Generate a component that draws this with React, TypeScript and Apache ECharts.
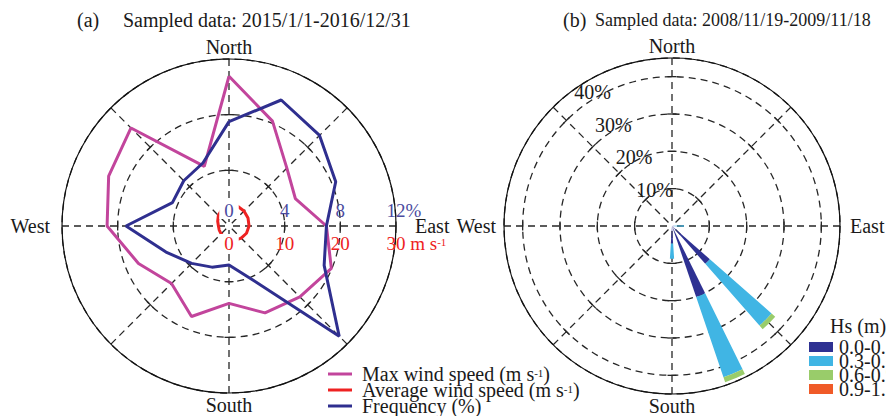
import React, { useEffect, useRef } from 'react';
import * as echarts from 'echarts';

// ---- data -------------------------------------------------------------
const DIRECTIONS = ['N', 'NNE', 'NE', 'ENE', 'E', 'ESE', 'SE', 'SSE', 'S', 'SSW', 'SW', 'WSW', 'W', 'WNW', 'NW', 'NNW'];

// (a) wind, 2015/1/1-2016/12/31
const maxWindSpeed = [26.9, 20.4, 14.7, 12.9, 17.5, 19.9, 18.0, 16.9, 13.9, 17.6, 14.6, 17.6, 21.9, 23.4, 24.9, 11.6];
const avgWindSpeed = [3.7, 3.9, 3.8, 3.7, 3.6, 3.4, 3.1, 2.8, 2.5, 2.2, 2.0, 1.9, 1.9, 2.2, 2.7, 3.3];
const windFrequency = [7.5, 9.8, 9.2, 8.3, 7.0, 7.4, 11.2, 4.1, 2.8, 3.2, 3.8, 4.9, 7.4, 4.4, 4.6, 4.9];
const speedTicks = [0, 10, 20, 30];
const freqTicks = [0, 4, 8, 12];

// (b) wave rose, 2008/11/19-2009/11/18, frequency (%) per Hs class
const HS_CLASSES = ['0.0-0.3', '0.3-0.6', '0.6-0.9', '0.9-1.2'];
const hs00to03 = [0, 0, 0, 0, 0.6, 0, 13.5, 20.1, 4.7, 0, 0, 0, 0, 0, 0, 0];
const hs03to06 = [0, 0, 0, 0, 2.6, 0, 22.0, 22.7, 4.1, 0, 0, 0, 0, 0, 0, 0];
const hs06to09 = [0, 0, 0, 0, 0, 0, 1.3, 1.4, 0, 0, 0, 0, 0, 0, 0, 0];
const hs09to12 = [0, 0, 0, 0, 0, 0, 0, 0, 0, 0, 0, 0, 0, 0, 0, 0];
const waveRings = [10, 20, 30, 40];

// ---- style / layout ---------------------------------------------------
const FONT = "'Liberation Serif', 'Times New Roman', serif";
const FS = 20;
const INK = '#1a1a1a';
const MAGENTA = '#c2459c';
const RED = '#ee2222';
const NAVY = '#2f2f8f';
const AXIS_BLUE = '#4b4ba0';
const HS_COLORS = ['#2e3192', '#40b5e4', '#99cc6a', '#f05a28'];
const DASH = { color: '#262626', width: 1.3, type: [7, 5] as number[] };

const PA = { cx: 229, cy: 226, r: 167, gapW: 12, gapE: 19 };
const PB = { cx: 672, cy: 226, r: 168, gapW: 8, gapE: 10 };
const SPEED_MAX = 30;
const FREQ_MAX = 12;
const WAVE_MAX = 45;
const SPOKES = [0, 45, 90, 135, 180, 225, 270, 315];

const WIND_LEGEND = { x: 328, y: 374, row: 16, iconW: 24, textX: 362 };
const WAVE_LEGEND = { x: 809, y: 342, row: 14, boxW: 24, boxH: 10, textX: 839 };

const step = 360 / DIRECTIONS.length;
const closedLoop = (vals: number[]) => [...vals.map((v, i) => [v, i * step]), [vals[0], 360]];

// short tangent marks where the dashed rings cross the spokes
const ringMarks = (rings: number[]) =>
  rings.flatMap((r) => SPOKES.map((a) => ({ value: [r, a], symbolRotate: 90 - a })));

const txt = (x: number, y: number, text: string, extra: any = {}) => ({
  type: 'text',
  x,
  y,
  z: 100,
  silent: true,
  style: {
    text,
    font: `${FS}px ${FONT}`,
    fill: INK,
    align: 'center',
    verticalAlign: 'middle',
    lineHeight: 14,
    ...extra,
  },
});

const compassLabels = (p: typeof PA) => [
  txt(p.cx, p.cy - p.r - 12, 'North'),
  txt(p.cx, p.cy + p.r + 12, 'South'),
  txt(p.cx - p.r - p.gapW, p.cy, 'West', { align: 'right' }),
  txt(p.cx + p.r + p.gapE, p.cy, 'East', { align: 'left' }),
];

const numHalfWidth = (s: string, fs: number) => (s.length * 0.5 * fs) / 2;

const supRich = (color: string, fs: number) => ({
  u: { font: `${fs}px ${FONT}`, fill: color, lineHeight: 14 },
  p: { font: `11px ${FONT}`, fill: color, verticalAlign: 'top', lineHeight: 8 },
});

function buildOption(): any {
  const graphics: any[] = [];
  const AXIS_FS = 19;

  graphics.push(txt(77, 20, '(a)', { align: 'left' }));
  graphics.push(txt(123, 20, 'Sampled data: 2015/1/1-2016/12/31', { align: 'left' }));
  graphics.push(txt(563, 20, '(b)', { align: 'left' }));
  graphics.push(
    txt(595, 20, 'Sampled data: 2008/11/19-2009/11/18', { align: 'left', font: `18px ${FONT}` })
  );

  graphics.push(...compassLabels(PA), ...compassLabels(PB));

  // frequency scale above the east axis, speed scale below it
  freqTicks.forEach((v, i) => {
    const x = PA.cx + (PA.r * v) / FREQ_MAX;
    const s = String(v);
    const zero = v === 0 ? { backgroundColor: '#fff', padding: [2, 5] } : {};
    graphics.push(txt(x, PA.cy - 16, s, { fill: AXIS_BLUE, font: `${AXIS_FS}px ${FONT}`, ...zero }));
    if (i === freqTicks.length - 1) {
      graphics.push(
        txt(x + numHalfWidth(s, AXIS_FS), PA.cy - 16, '%', {
          fill: AXIS_BLUE,
          align: 'left',
          font: `${AXIS_FS}px ${FONT}`,
        })
      );
    }
  });
  speedTicks.forEach((v, i) => {
    const x = PA.cx + (PA.r * v) / SPEED_MAX;
    const s = String(v);
    const zero = v === 0 ? { backgroundColor: '#fff', padding: [2, 5] } : {};
    graphics.push(txt(x, PA.cy + 17, s, { fill: RED, font: `${AXIS_FS}px ${FONT}`, ...zero }));
    if (i === speedTicks.length - 1) {
      graphics.push(
        txt(x + numHalfWidth(s, AXIS_FS), PA.cy + 17, '{u| m s}{p|-1}', {
          fill: RED,
          align: 'left',
          rich: supRich(RED, AXIS_FS),
        })
      );
    }
  });

  // percentage rings of the wave rose
  waveRings.forEach((v) => {
    const rv = (PB.r * v) / WAVE_MAX;
    graphics.push(txt(PB.cx + 21.7 - 0.554 * rv, PB.cy - 4 - 0.87 * rv, `${v}%`, { align: 'right' }));
  });

  // legend of panel (a): line samples + labels
  const windItems = [
    { color: MAGENTA, label: '{u|Max wind speed (m s}{p|-1}{u|)}' },
    { color: RED, label: '{u|Average wind speed (m s}{p|-1}{u|)}' },
    { color: NAVY, label: '{u|Frequency (%)}' },
  ];
  windItems.forEach((it, i) => {
    const y = WIND_LEGEND.y + i * WIND_LEGEND.row;
    graphics.push({
      type: 'rect',
      z: 100,
      silent: true,
      shape: { x: WIND_LEGEND.x, y: y - 1.5, width: WIND_LEGEND.iconW, height: 3 },
      style: { fill: it.color },
    });
    graphics.push(txt(WIND_LEGEND.textX, y, it.label, { align: 'left', rich: supRich(INK, FS) }));
  });

  // legend of panel (b): Hs classes
  graphics.push(txt(830, 326, 'Hs (m)', { align: 'left' }));
  HS_CLASSES.forEach((name, i) => {
    const top = WAVE_LEGEND.y + i * WAVE_LEGEND.row;
    graphics.push({
      type: 'rect',
      z: 100,
      silent: true,
      shape: { x: WAVE_LEGEND.x, y: top, width: WAVE_LEGEND.boxW, height: WAVE_LEGEND.boxH },
      style: { fill: HS_COLORS[i] },
    });
    graphics.push(txt(WAVE_LEGEND.textX, top + WAVE_LEGEND.boxH / 2, name, { align: 'left', lineHeight: 12 }));
  });

  const gridAngle = (polarIndex: number) => ({
    polarIndex,
    type: 'value',
    min: 0,
    max: 360,
    interval: 45,
    startAngle: 90,
    clockwise: true,
    axisLine: { show: true, lineStyle: { color: '#111', width: 1.2 } },
    axisTick: { show: false },
    axisLabel: { show: false },
    splitLine: { show: true, lineStyle: DASH },
  });
  const gridRadius = (polarIndex: number, max: number) => ({
    polarIndex,
    type: 'value',
    min: 0,
    max,
    interval: 10,
    axisLine: { show: false },
    axisTick: { show: false },
    axisLabel: { show: false },
    splitLine: { show: true, lineStyle: DASH },
  });

  const lineSeries = (name: string, vals: number[], color: string, polarIndex: number, z: number) => ({
    name,
    type: 'line',
    coordinateSystem: 'polar',
    polarIndex,
    data: closedLoop(vals),
    symbol: 'none',
    smooth: false,
    z,
    itemStyle: { color },
    lineStyle: { color, width: 3 },
  });

  const markSeries = (polarIndex: number, rings: number[]) => ({
    type: 'scatter',
    coordinateSystem: 'polar',
    polarIndex,
    symbol: 'rect',
    symbolSize: [1.3, 9],
    silent: true,
    z: 1,
    itemStyle: { color: '#262626', opacity: 1 },
    data: ringMarks(rings),
  });

  const hsData = [hs00to03, hs03to06, hs06to09, hs09to12];
  const barSeries = HS_CLASSES.map((name, i) => ({
    name,
    type: 'bar',
    coordinateSystem: 'polar',
    polarIndex: 3,
    stack: 'hs',
    barWidth: '33%',
    z: 3,
    itemStyle: { color: HS_COLORS[i] },
    data: hsData[i],
  }));

  return {
    animation: false,
    backgroundColor: '#fff',
    polar: [
      { center: [PA.cx, PA.cy], radius: PA.r },
      { center: [PA.cx, PA.cy], radius: PA.r },
      { center: [PB.cx, PB.cy], radius: PB.r },
      { center: [PB.cx, PB.cy], radius: PB.r },
    ],
    angleAxis: [
      gridAngle(0),
      { polarIndex: 1, type: 'value', min: 0, max: 360, startAngle: 90, clockwise: true, show: false },
      gridAngle(2),
      {
        polarIndex: 3,
        type: 'category',
        data: DIRECTIONS,
        startAngle: 90 + step / 2,
        clockwise: true,
        show: false,
      },
    ],
    radiusAxis: [
      gridRadius(0, SPEED_MAX),
      { polarIndex: 1, type: 'value', min: 0, max: FREQ_MAX, show: false },
      gridRadius(2, WAVE_MAX),
      { polarIndex: 3, type: 'value', min: 0, max: WAVE_MAX, show: false },
    ],
    graphic: graphics,
    series: [
      markSeries(0, [10, 20]),
      lineSeries('Max wind speed', maxWindSpeed, MAGENTA, 0, 3),
      lineSeries('Average wind speed', avgWindSpeed, RED, 0, 4),
      lineSeries('Frequency', windFrequency, NAVY, 1, 5),
      markSeries(2, waveRings),
      ...barSeries,
    ],
  };
}

export default function App() {
  const ref = useRef<HTMLDivElement>(null);
  useEffect(() => {
    document.body.style.margin = '0';
    const chart = echarts.init(ref.current!, null, { renderer: 'svg' });
    chart.setOption(buildOption());
    return () => chart.dispose();
  }, []);
  return <div ref={ref} style={{ width: 886, height: 416 }} />;
}
